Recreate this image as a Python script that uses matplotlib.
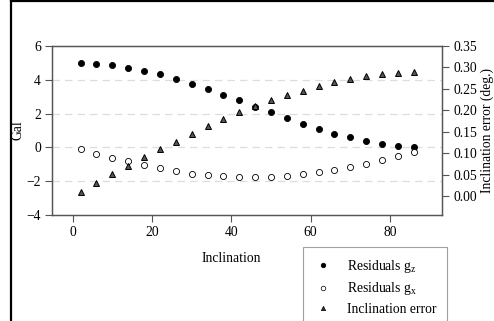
import matplotlib
matplotlib.use("Agg")
import matplotlib.pyplot as plt
from matplotlib.lines import Line2D

plt.rcParams['font.family'] = ['Liberation Serif', 'DejaVu Serif']
plt.rcParams['mathtext.fontset'] = 'custom'
plt.rcParams['mathtext.rm'] = 'Liberation Serif'
plt.rcParams['mathtext.it'] = 'Liberation Serif:italic'

inclination = [2, 6, 10, 14, 18, 22, 26, 30, 34, 38, 42, 46, 50, 54, 58, 62, 66, 70, 74, 78, 82, 86]
residual_gz = [4.97, 4.93, 4.86, 4.70, 4.52, 4.32, 4.05, 3.77, 3.46, 3.12, 2.79, 2.41,
               2.07, 1.72, 1.40, 1.11, 0.81, 0.60, 0.38, 0.20, 0.10, 0.00]
residual_gx = [-0.11, -0.37, -0.61, -0.82, -1.04, -1.22, -1.40, -1.55, -1.63, -1.71, -1.75, -1.75,
               -1.73, -1.69, -1.59, -1.48, -1.32, -1.14, -0.96, -0.73, -0.51, -0.27]
incl_error = [0.010, 0.031, 0.051, 0.071, 0.090, 0.110, 0.127, 0.145, 0.163, 0.179, 0.195, 0.209,
              0.223, 0.235, 0.246, 0.257, 0.266, 0.273, 0.279, 0.285, 0.288, 0.290]

x_ticks = [0, 20, 40, 60, 80]
left_ticks = [-4, -2, 0, 2, 4, 6]
right_ticks = [0.00, 0.05, 0.10, 0.15, 0.20, 0.25, 0.30, 0.35]

W, H = 494, 321
fig = plt.figure(figsize=(W / 100, H / 100), dpi=100)
ax = fig.add_axes([52 / W, 1 - 215 / H, 390 / W, 169 / H])
ax2 = ax.twinx()

fs = 9.8
spine_c = '#555555'

ax.set_xlim(-5.2, 93.1)
ax.set_ylim(-4, 6)
ax2.set_ylim(-0.0443, 0.35)

for y in [-2, 0, 2, 4]:
    ax.axhline(y, color='#dddddd', lw=0.9, ls=(0, (6, 4)), zorder=0)

ax.plot(inclination, residual_gz, ls='none', marker='o', ms=4.4, mfc='black', mec='black', mew=0.6, zorder=3)
ax.plot(inclination, residual_gx, ls='none', marker='o', ms=4.4, mfc='white', mec='black', mew=0.6, zorder=3)
ax2.plot(inclination, incl_error, ls='none', marker='^', ms=3.8, mfc='#555555', mec='black', mew=0.7, zorder=3)

ax.set_xticks(x_ticks)
ax.set_yticks(left_ticks)
ax2.set_yticks(right_ticks)
ax2.set_yticklabels([f"{v:.2f}" for v in right_ticks])

for a in (ax, ax2):
    a.tick_params(labelsize=fs, length=5, width=0.8, color=spine_c, pad=3, direction='out')
    for s in a.spines.values():
        s.set_color(spine_c)
        s.set_linewidth(0.9)

ax.set_xlabel('Inclination', fontsize=fs)
ax.xaxis.set_label_coords((231 - 52) / 390, -(252 - 215) / 169, transform=ax.transAxes)
ax.set_ylabel('Gal', fontsize=fs)
ax.yaxis.set_label_coords(-(52 - 25) / 390, 0.5, transform=ax.transAxes)
fig.text(481 / W, 1 - 130 / H, 'Inclination error (deg.)', rotation=90, ha='left', va='center',
         fontsize=fs)

handles = [
    Line2D([], [], ls='none', marker='o', ms=3.3, mfc='black', mec='black', mew=0.5),
    Line2D([], [], ls='none', marker='o', ms=3.3, mfc='white', mec='black', mew=0.5),
    Line2D([], [], ls='none', marker='^', ms=3.1, mfc='#333333', mec='black', mew=0.5),
]
labels = ['Residuals g$_\\mathregular{z}$', 'Residuals g$_\\mathregular{x}$', 'Inclination error']
leg = fig.legend(handles, labels, loc='upper left', bbox_to_anchor=(303 / W, 1 - 247 / H),
                 fontsize=fs, frameon=True, fancybox=False, borderpad=0.8,
                 labelspacing=0.4, handletextpad=1.0, handlelength=1.4, borderaxespad=0)
leg.get_frame().set_edgecolor('#888888')
leg.get_frame().set_linewidth(0.8)

# outer frame lines (top and left)
fig.add_artist(Line2D([10.5 / W, 10.5 / W], [0, 1], color='black', lw=1.6, transform=fig.transFigure))
fig.add_artist(Line2D([10.5 / W, 1], [1 - 0.8 / H, 1 - 0.8 / H], color='black', lw=1.6, transform=fig.transFigure))

fig.savefig('out.png', dpi=100)
